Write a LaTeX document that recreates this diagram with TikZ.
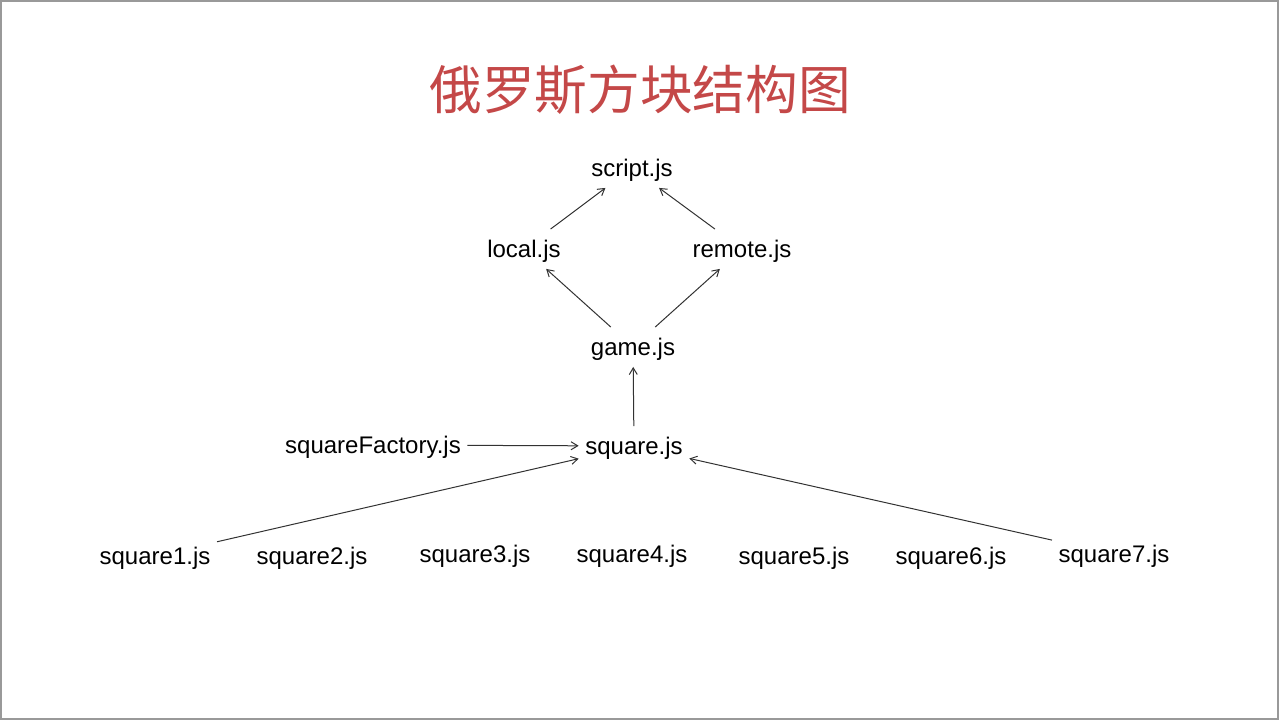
\documentclass[tikz,border=0pt]{standalone}
\usepackage{fontspec}
\setmainfont{Liberation Sans}
\newfontfamily\cjk{Noto Sans CJK SC}
\usetikzlibrary{positioning}
\usetikzlibrary{arrows.meta}
\definecolor{titlered}{RGB}{196,72,72}
\definecolor{edgegray}{RGB}{50,50,50}
\tikzset{
    filenode/.style = {rectangle, inner xsep=4.8pt, inner ysep=7pt, text height=14pt, text depth=1.5pt, font=\fontsize{18pt}{21pt}\selectfont},
    titlenode/.style = {text=titlered, font=\cjk\fontsize{39.5pt}{44pt}\selectfont},
    edgen/.style = {-{Straight Barb[length=5pt,width=6pt]}, line width=0.75pt, edgegray},
    frame/.style = {draw=gray!80, line width=1.2pt}
}
\begin{document}
\begin{tikzpicture}[x=0.75pt,y=-0.75pt]
  \useasboundingbox (0,0) rectangle (1280,720);
  \draw[frame] (1,1) rectangle (1278,719);

  \node[titlenode] (title) at (640,90) {俄罗斯方块结构图};

  \node[filenode] (script) at (632,168) {script.js};
  \node[filenode] (local)  at (524,249) {local.js};
  \node[filenode] (remote) at (742,249) {remote.js};
  \node[filenode] (game)   at (633,347) {game.js};
  \node[filenode] (factory) at (373,445) {squareFactory.js};
  \node[filenode] (square) at (634,446) {square.js};

  \node[filenode] (sq1) at (155,556) {square1.js};
  \node[filenode] (sq2) at (312,556) {square2.js};
  \node[filenode] (sq3) at (475,554) {square3.js};
  \node[filenode] (sq4) at (632,554) {square4.js};
  \node[filenode] (sq5) at (794,556) {square5.js};
  \node[filenode] (sq6) at (951,556) {square6.js};
  \node[filenode] (sq7) at (1114,554) {square7.js};

  \draw[edgen] (local) -- (script);
  \draw[edgen] (remote) -- (script);
  \draw[edgen] (game) -- (local);
  \draw[edgen] (game) -- (remote);
  \draw[edgen] (square) -- (game);
  \draw[edgen] (factory) -- (square);
  \draw[edgen] (sq1) -- (square);
  \draw[edgen] (sq7) -- (square);
\end{tikzpicture}
\end{document}
